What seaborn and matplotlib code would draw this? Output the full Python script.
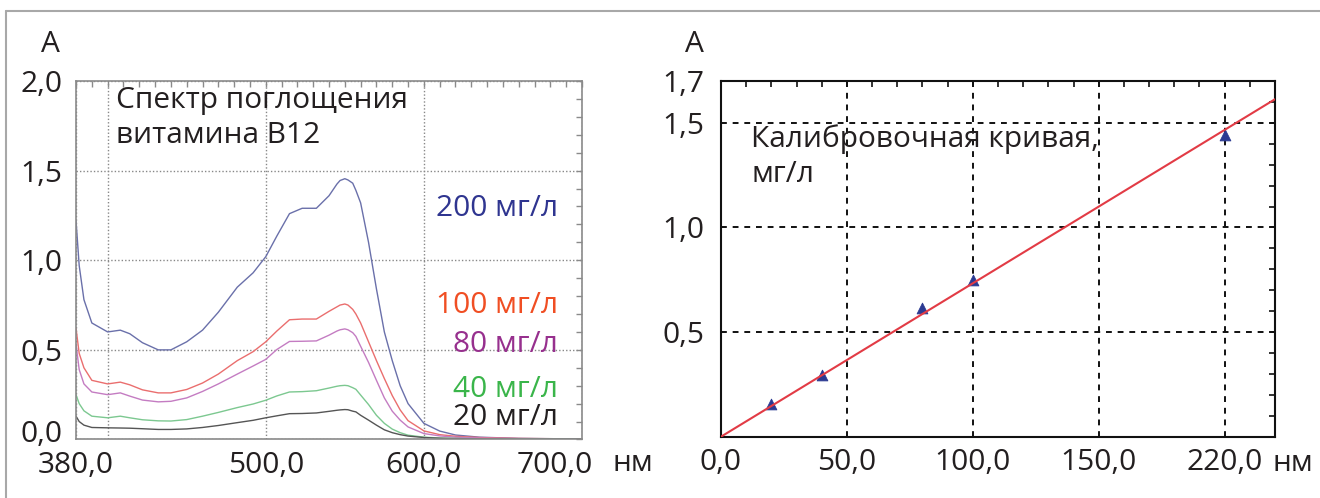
import numpy as np
import pandas as pd
import matplotlib
matplotlib.use("Agg")
import matplotlib.pyplot as plt
import matplotlib.transforms as mtransforms
from matplotlib.ticker import MultipleLocator
from matplotlib.lines import Line2D
import seaborn as sns

# DATA - absorption spectra
wavelength = [380, 382, 385, 390, 400, 408, 414, 422, 432, 440, 450, 460, 470,
              482, 492, 500, 507, 515, 523, 532, 540, 545, 547, 550, 552, 555,
              557, 560, 565, 570, 575, 580, 585, 590, 600, 610, 620, 635, 660,
              700]

abs_200 = [1.22, 0.97, 0.78, 0.65, 0.60, 0.61, 0.59, 0.54, 0.50, 0.50, 0.545,
           0.61, 0.71, 0.85, 0.93, 1.02, 1.135, 1.26, 1.29, 1.29, 1.36, 1.425,
           1.445, 1.455, 1.448, 1.43, 1.39, 1.32, 1.10, 0.84, 0.60, 0.44, 0.30,
           0.20, 0.09, 0.047, 0.025, 0.013, 0.006, 0.003]
abs_100 = [0.62, 0.48, 0.40, 0.33, 0.31, 0.32, 0.305, 0.277, 0.26, 0.26, 0.279,
           0.315, 0.365, 0.44, 0.49, 0.545, 0.605, 0.668, 0.672, 0.672, 0.715,
           0.74, 0.75, 0.756, 0.75, 0.726, 0.70, 0.65, 0.545, 0.44, 0.34,
           0.245, 0.165, 0.105, 0.048, 0.027, 0.018, 0.011, 0.006, 0.003]
abs_80 = [0.53, 0.39, 0.31, 0.265, 0.25, 0.26, 0.242, 0.22, 0.21, 0.213, 0.232,
          0.268, 0.31, 0.365, 0.41, 0.447, 0.502, 0.547, 0.548, 0.55, 0.582,
          0.605, 0.612, 0.617, 0.612, 0.596, 0.575, 0.52, 0.43, 0.33, 0.232,
          0.158, 0.108, 0.07, 0.033, 0.02, 0.013, 0.008, 0.005, 0.003]
abs_40 = [0.25, 0.20, 0.16, 0.13, 0.121, 0.13, 0.121, 0.11, 0.104, 0.103, 0.111,
          0.13, 0.151, 0.178, 0.198, 0.219, 0.243, 0.265, 0.267, 0.272, 0.287,
          0.297, 0.30, 0.302, 0.30, 0.289, 0.28, 0.248, 0.195, 0.135, 0.09,
          0.058, 0.038, 0.024, 0.013, 0.008, 0.006, 0.004, 0.003, 0.002]
abs_20 = [0.13, 0.10, 0.08, 0.067, 0.065, 0.064, 0.063, 0.06, 0.056, 0.056,
          0.059, 0.067, 0.078, 0.094, 0.107, 0.121, 0.132, 0.144, 0.145, 0.148,
          0.157, 0.163, 0.165, 0.167, 0.166, 0.158, 0.154, 0.135, 0.108, 0.08,
          0.054, 0.038, 0.027, 0.019, 0.011, 0.007, 0.005, 0.003, 0.002, 0.002]

series_names = ["200 мг/л", "100 мг/л", "80 мг/л", "40 мг/л", "20 мг/л"]
line_colors = ["#6a70aa", "#ea6e6e", "#c47cc2", "#7cc890", "#555555"]
label_colors = ["#2f3590", "#f04e23", "#97308e", "#3ab54a", "#231f20"]
label_y = [1.31, 0.765, 0.55, 0.30, 0.14]

# DATA - calibration curve
conc = [20, 40, 80, 100, 200]
absorb = [0.155, 0.295, 0.613, 0.748, 1.44]
fit_x = [0, 220]
fit_y = [0.0, 1.613]

# tick labels
left_xticks = [380, 400, 500, 600, 700]
left_xlabels = ["380,0", "", "500,0", "600,0", "700,0"]
left_yticks = [0.0, 0.5, 1.0, 1.5, 2.0]
left_ylabels = ["0,0", "0,5", "1,0", "1,5", "2,0"]
right_xticks = [0, 50, 100, 150, 200]
right_xlabels = ["0,0", "50,0", "100,0", "150,0", "220,0"]
right_yticks = [0.5, 1.0, 1.5, 1.7]
right_ylabels = ["0,5", "1,0", "1,5", "1,7"]

sns.set_style("white")
plt.rcParams["font.family"] = ["Open Sans", "DejaVu Sans"]
FS = 21.5
TXT = "#231f20"

spectra = pd.DataFrame({
    "nm": wavelength * 5,
    "A": abs_200 + abs_100 + abs_80 + abs_40 + abs_20,
    "conc": sum([[n] * len(wavelength) for n in series_names], []),
})
calib = pd.DataFrame({"c": conc, "A": absorb})
fit = pd.DataFrame({"c": fit_x, "A": fit_y})

fig = plt.figure(figsize=(13.2, 4.98), dpi=100)
ax1 = fig.add_axes([0.0576, 0.1175, 0.3833, 0.7198])
ax2 = fig.add_axes([0.5462, 0.1231, 0.4197, 0.7142])

# frame round the figure (top + left only visible)
fig.add_artist(Line2D([0.0045, 1.0], [0.978, 0.978], transform=fig.transFigure,
                      color="#a8a8a8", lw=1.5))
fig.add_artist(Line2D([0.0045, 0.0045], [0.0, 0.978], transform=fig.transFigure,
                      color="#a8a8a8", lw=1.5))

# LEFT: spectra
sns.lineplot(data=spectra, x="nm", y="A", hue="conc",
             palette=dict(zip(series_names, line_colors)),
             hue_order=series_names, lw=1.0, legend=False, ax=ax1,
             estimator=None, sort=False)
ax1.set_xlim(380, 700)
ax1.set_ylim(0, 2.0)
ax1.set_xticks(left_xticks, left_xlabels)
ax1.set_yticks(left_yticks, left_ylabels)
ax1.xaxis.set_minor_locator(MultipleLocator(10))
ax1.yaxis.set_minor_locator(MultipleLocator(0.1))
ax1.grid(True, which="major", color="#888888", ls=(0, (1, 1.5)), lw=1.0)
for s in ax1.spines.values():
    s.set_color("#8a8a8a")
    s.set_linewidth(1.2)
ax1.tick_params(which="both", direction="in", length=4, color="#8a8a8a",
                top=True, right=True, width=1)
ax1.tick_params(axis="x", labelsize=FS, labelcolor=TXT, pad=8)
ax1.tick_params(axis="y", labelsize=FS, labelcolor=TXT, pad=10)
ax1.set_xlabel("")
ax1.set_ylabel("")

ax1.text(405, 1.97, "Спектр поглощения\nвитамина В12", fontsize=FS,
         color=TXT, va="top", ha="left", linespacing=1.25)
for name, col, yy in zip(series_names, label_colors, label_y):
    ax1.text(685, yy, name, fontsize=FS, color=col, ha="right",
             va="center_baseline")

# RIGHT: calibration
sns.scatterplot(data=calib, x="c", y="A", marker="^", s=60, color="#2b3a92",
                edgecolor="#2b3a92", ax=ax2, zorder=3)
sns.lineplot(data=fit, x="c", y="A", color="#e23b45", lw=1.5, ax=ax2,
             zorder=4)
ax2.set_xlim(0, 220)
ax2.set_ylim(0, 1.7)
ax2.set_xticks(right_xticks, right_xlabels)
ax2.set_yticks(right_yticks, right_ylabels)
ax2.xaxis.set_minor_locator(MultipleLocator(10))
ax2.yaxis.set_minor_locator(MultipleLocator(0.1))
ax2.grid(True, which="major", color="#111111", ls=(0, (3, 3)), lw=1.4)
for s in ax2.spines.values():
    s.set_color("#111111")
    s.set_linewidth(1.5)
ax2.tick_params(which="both", direction="in", length=4, color="#111111",
                top=True, right=True, width=1.2)
ax2.tick_params(axis="x", labelsize=FS, labelcolor=TXT, pad=8)
ax2.tick_params(axis="y", labelsize=FS, labelcolor=TXT, pad=12)
ax2.set_xlabel("")
ax2.set_ylabel("")
ax2.text(12, 1.34, "Калибровочная кривая,\nмг/л", fontsize=FS, color=TXT,
         va="center", ha="left", linespacing=1.25)

# shift a few tick labels like in the original layout
lab700 = ax1.get_xticklabels()[-1]
lab700.set_transform(lab700.get_transform() +
                     mtransforms.ScaledTranslation(-0.27, 0, fig.dpi_scale_trans))
lab00 = ax1.get_yticklabels()[0]
lab00.set_transform(lab00.get_transform() +
                    mtransforms.ScaledTranslation(0, 0.08, fig.dpi_scale_trans))

# axis names
fig.text(50 / 1320, 1 - 45 / 498, "А", fontsize=FS, color=TXT,
         ha="center", va="center")
fig.text(694 / 1320, 1 - 45 / 498, "А", fontsize=FS, color=TXT,
         ha="center", va="center")
fig.text(633 / 1320, 1 - 463 / 498, "нм", fontsize=FS, color=TXT,
         ha="center", va="center")
fig.text(1293 / 1320, 1 - 463 / 498, "нм", fontsize=FS, color=TXT,
         ha="center", va="center")

fig.savefig("out.png", dpi=100, facecolor="white")
